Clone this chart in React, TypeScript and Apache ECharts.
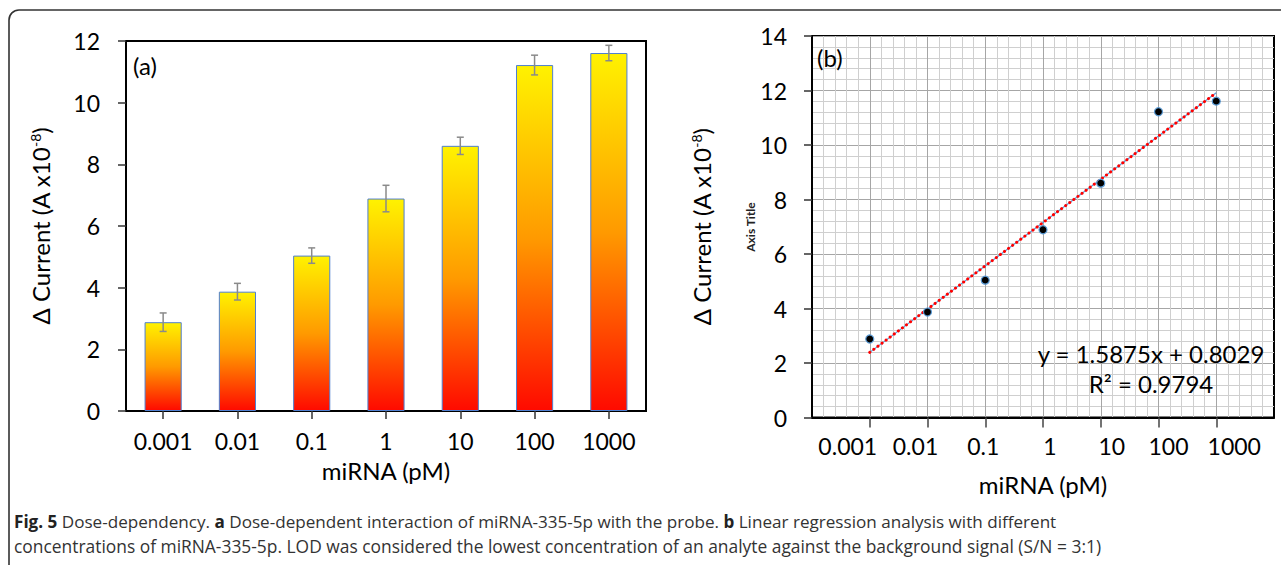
import React, { useEffect, useRef } from 'react';
import * as echarts from 'echarts';

// ---- data ----
const categories = ['0.001', '0.01', '0.1', '1', '10', '100', '1000'];
const concentrations = [0.001, 0.01, 0.1, 1, 10, 100, 1000];
const currentValues = [2.88, 3.87, 5.04, 6.89, 8.6, 11.22, 11.61];
const errorValues = [0.3, 0.27, 0.25, 0.43, 0.28, 0.32, 0.25];
const slope = 1.5875;
const intercept = 0.8029;
const rSquared = '0.9794';
const logTickValues = [-3, -2, -1, 0, 1, 2, 3];
const logLabelShift = [-22, -12, -2, 7, 11, 10, 18];

const FONT = 'Lato';

export default function App() {
  const ref = useRef<HTMLDivElement>(null);

  useEffect(() => {
    if (!ref.current) return;
    const chart = echarts.init(ref.current, null, { renderer: 'svg' });

    const barGradient = new echarts.graphic.LinearGradient(0, 0, 0, 1, [
      { offset: 0, color: '#FFF200' },
      { offset: 0.5, color: '#FF9A00' },
      { offset: 1, color: '#FF0A00' },
    ]);

    const errorData = currentValues.map((v, i) => [i, v - errorValues[i], v + errorValues[i]]);
    const scatterData = concentrations.map((c, i) => [Math.log10(c), currentValues[i]]);
    const firstIdx = 1;
    const lastIdx = concentrations.length;
    const trendData = [
      [Math.log10(concentrations[0]), slope * firstIdx + intercept],
      [Math.log10(concentrations[concentrations.length - 1]), slope * lastIdx + intercept],
    ];

    const yName = '{m|Δ Current (A x10}{s|-8}{m|)}';
    const yNameStyle = {
      fontFamily: FONT,
      fontSize: 24,
      color: '#000',
      rich: {
        m: { fontFamily: FONT, fontSize: 24, color: '#000' },
        s: { fontFamily: FONT, fontSize: 14, color: '#000', verticalAlign: 'top' },
      },
    };

    const rich: Record<string, any> = {};
    logLabelShift.forEach((d, i) => {
      rich['p' + i] = {
        fontFamily: FONT,
        fontSize: 23,
        color: '#000',
        padding: d < 0 ? [0, -2 * d, 0, 0] : [0, 0, 0, 2 * d],
      };
    });

    const option: any = {
      animation: false,
      backgroundColor: '#fff',
      grid: [
        { left: 126, top: 41, width: 520, height: 370, show: true, borderColor: '#000', borderWidth: 2, backgroundColor: 'transparent' },
        { left: 812, top: 36, width: 462, height: 381.5, show: true, borderColor: '#000', borderWidth: 2, backgroundColor: 'transparent' },
      ],
      xAxis: [
        {
          type: 'category',
          gridIndex: 0,
          data: categories,
          axisLine: { onZero: false, lineStyle: { color: '#000', width: 2 } },
          axisTick: { show: true, alignWithLabel: true, length: 8, lineStyle: { color: '#333', width: 1.5 } },
          axisLabel: { fontFamily: FONT, fontSize: 23, color: '#000', margin: 18, interval: 0 },
          name: 'miRNA (pM)',
          nameLocation: 'middle',
          nameGap: 47,
          nameTextStyle: { fontFamily: FONT, fontSize: 24, color: '#000' },
          splitLine: { show: false },
        },
        {
          type: 'value',
          gridIndex: 1,
          min: -4,
          max: 4,
          interval: 1,
          axisLine: { onZero: false, lineStyle: { color: '#000', width: 2 } },
          axisTick: { show: true, length: 10, customValues: logTickValues, lineStyle: { color: '#444', width: 1.5 } },
          axisLabel: {
            customValues: logTickValues,
            margin: 17,
            formatter: (v: number) => {
              const i = Math.round(v) + 3;
              return '{p' + i + '|' + categories[i] + '}';
            },
            rich,
          },
          splitLine: { show: true, lineStyle: { color: '#a6a6a6', width: 1 } },
          minorTick: { show: false, splitNumber: 5 },
          minorSplitLine: { show: true, lineStyle: { color: '#cfcfcf', width: 1 } },
          name: 'miRNA (pM)',
          nameLocation: 'middle',
          nameGap: 55,
          nameTextStyle: { fontFamily: FONT, fontSize: 24, color: '#000' },
        },
      ],
      yAxis: [
        {
          type: 'value',
          gridIndex: 0,
          min: 0,
          max: 12,
          interval: 2,
          axisLine: { show: true, onZero: false, lineStyle: { color: '#000', width: 2 } },
          axisTick: { show: true, length: 8, lineStyle: { color: '#333', width: 1.5 } },
          axisLabel: { fontFamily: FONT, fontSize: 23, color: '#000', margin: 26 },
          splitLine: { show: false },
          name: yName,
          nameLocation: 'middle',
          nameGap: 74,
          nameTextStyle: yNameStyle,
        },
        {
          type: 'value',
          gridIndex: 1,
          min: 0,
          max: 14,
          interval: 2,
          axisLine: { show: true, onZero: false, lineStyle: { color: '#000', width: 2 } },
          axisTick: { show: true, length: 8, lineStyle: { color: '#333', width: 1.5 } },
          axisLabel: { fontFamily: FONT, fontSize: 23, color: '#000', margin: 25 },
          splitLine: { show: true, lineStyle: { color: '#a6a6a6', width: 1 } },
          minorTick: { show: false, splitNumber: 5 },
          minorSplitLine: { show: true, lineStyle: { color: '#cfcfcf', width: 1 } },
          name: yName,
          nameLocation: 'middle',
          nameGap: 99,
          nameTextStyle: yNameStyle,
        },
      ],
      series: [
        {
          type: 'bar',
          xAxisIndex: 0,
          yAxisIndex: 0,
          data: currentValues,
          barWidth: '50%',
          itemStyle: { color: barGradient, borderColor: '#4f7fd0', borderWidth: 1 },
          z: 2,
        },
        {
          type: 'custom',
          xAxisIndex: 0,
          yAxisIndex: 0,
          data: errorData,
          encode: { x: 0, y: [1, 2] },
          z: 5,
          renderItem: (params: any, api: any) => {
            const x = api.value(0);
            const lo = api.coord([x, api.value(1)]);
            const hi = api.coord([x, api.value(2)]);
            const w = 3.5;
            const st = { stroke: '#8a8a8a', lineWidth: 1.5 };
            return {
              type: 'group',
              children: [
                { type: 'line', shape: { x1: lo[0], y1: lo[1], x2: hi[0], y2: hi[1] }, style: st },
                { type: 'line', shape: { x1: lo[0] - w, y1: lo[1], x2: lo[0] + w, y2: lo[1] }, style: st },
                { type: 'line', shape: { x1: hi[0] - w, y1: hi[1], x2: hi[0] + w, y2: hi[1] }, style: st },
              ],
            };
          },
        },
        {
          type: 'line',
          xAxisIndex: 1,
          yAxisIndex: 1,
          data: trendData,
          symbol: 'none',
          lineStyle: { color: '#5b9bd5', width: 1.2 },
          z: 3,
        },
        {
          type: 'line',
          xAxisIndex: 1,
          yAxisIndex: 1,
          data: trendData,
          symbol: 'none',
          lineStyle: { color: '#ff0000', width: 3, type: [0.1, 5], cap: 'round' },
          z: 4,
        },
        {
          type: 'scatter',
          xAxisIndex: 1,
          yAxisIndex: 1,
          data: scatterData,
          symbol: 'circle',
          symbolSize: 8,
          itemStyle: { color: '#000', borderColor: '#5b9bd5', borderWidth: 1.2, opacity: 1 },
          z: 6,
        },
      ],
      graphic: [
        {
          type: 'rect',
          shape: { x: 9, y: 10, width: 1400, height: 700, r: 10 },
          style: { fill: 'none', stroke: '#333', lineWidth: 1.6 },
          silent: true,
          z: 0,
        },
        {
          type: 'text',
          x: 133,
          y: 65,
          style: { text: '(a)', fontFamily: FONT, fontSize: 24, fill: '#000', verticalAlign: 'middle' },
        },
        {
          type: 'text',
          x: 817,
          y: 57,
          style: { text: '(b)', fontFamily: FONT, fontSize: 24, fill: '#000', verticalAlign: 'middle' },
          z: 10,
        },
        {
          type: 'text',
          x: 750,
          y: 227,
          rotation: Math.PI / 2,
          style: { text: 'Axis Title', fontFamily: FONT, fontSize: 12, fontWeight: 'bold', fill: '#222', align: 'center', verticalAlign: 'middle' },
        },
        {
          type: 'text',
          x: 1151,
          y: 353,
          z: 10,
          style: { text: 'y = ' + slope + 'x + ' + intercept, fontFamily: FONT, fontSize: 24, fill: '#000', align: 'center', verticalAlign: 'middle' },
        },
        {
          type: 'text',
          x: 1151,
          y: 383,
          z: 10,
          style: { text: 'R² = ' + rSquared, fontFamily: FONT, fontSize: 24, fill: '#000', align: 'center', verticalAlign: 'middle' },
        },
        {
          type: 'text',
          x: 14,
          y: 521,
          style: {
            text: '{b|Fig. 5} Dose-dependency. {b|a} Dose-dependent interaction of miRNA-335-5p with the probe. {b|b} Linear regression analysis with different',
            fontFamily: 'Open Sans',
            fontSize: 17.1,
            fill: '#333',
            verticalAlign: 'middle',
            rich: { b: { fontFamily: 'Open Sans', fontSize: 17.1, fontWeight: 'bold', fill: '#222' } },
          },
        },
        {
          type: 'text',
          x: 14,
          y: 546,
          style: {
            text: 'concentrations of miRNA-335-5p. LOD was considered the lowest concentration of an analyte against the background signal (S/N = 3:1)',
            fontFamily: 'Open Sans',
            fontSize: 17.4,
            fill: '#333',
            verticalAlign: 'middle',
          },
        },
      ],
    };

    chart.setOption(option);
    return () => chart.dispose();
  }, []);

  return <div ref={ref} style={{ position: 'fixed', left: 0, top: 0, width: 1281, height: 565 }} />;
}
